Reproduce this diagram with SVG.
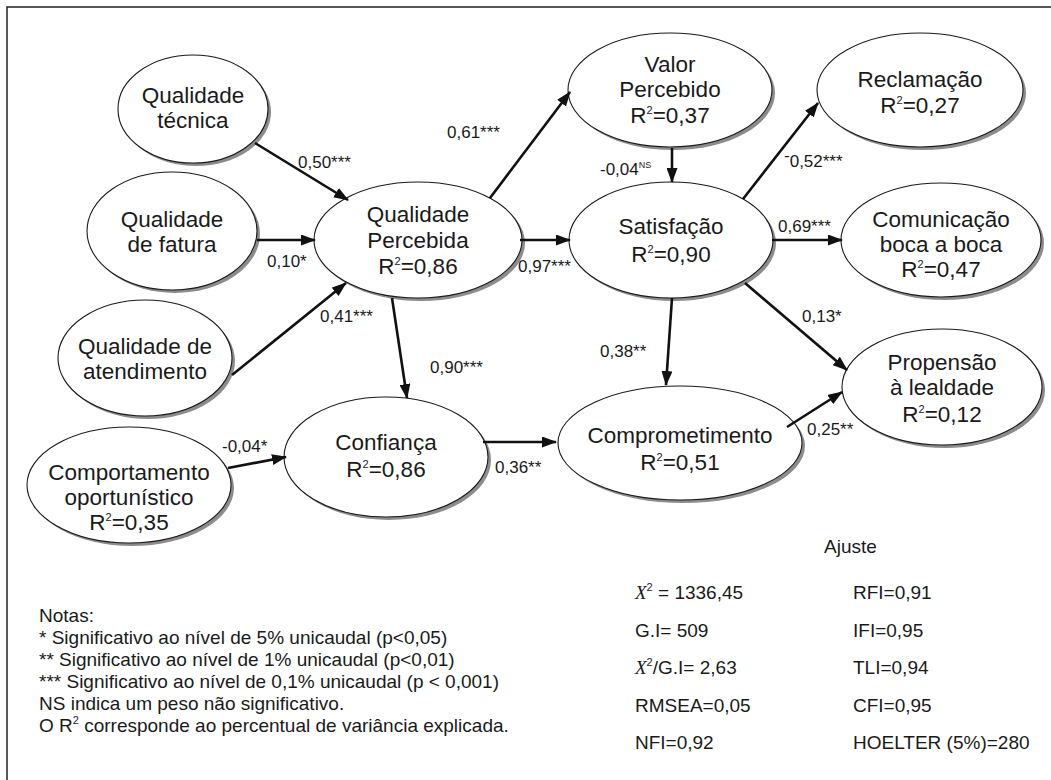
<svg xmlns="http://www.w3.org/2000/svg" width="1051" height="780" viewBox="0 0 1051 780">
<defs>
<style>
.sh{fill:#8c8c8c;}
.el{fill:#fff;stroke:#1a1a1a;stroke-width:1.1;}
.nt{font-family:"Liberation Sans",Arial,sans-serif;font-size:22.5px;fill:#1a1a1a;text-anchor:middle;}
.lb{font-family:"Liberation Sans",Arial,sans-serif;font-size:17px;fill:#1a1a1a;}
.tx{font-family:"Liberation Sans",Arial,sans-serif;font-size:19px;fill:#1a1a1a;}
.cn line{stroke:#111;stroke-width:2.6;marker-end:url(#ah);}
.sup{font-size:11px;}
.xs{font-family:"Liberation Serif","Times New Roman",serif;font-style:italic;}
</style>
<marker id="ah" markerUnits="userSpaceOnUse" markerWidth="15" markerHeight="11" refX="14" refY="5.5" orient="auto">
<path d="M0,0 L15,5.5 L0,11 z" fill="#111"/>
</marker>
</defs>
<rect x="0" y="0" width="1051" height="780" fill="#fff"/>
<rect x="7" y="7" width="1060" height="790" fill="none" stroke="#222" stroke-width="1.5"/>

<g id="n-qt"><ellipse class="sh" cx="196" cy="112" rx="75" ry="54"/><ellipse class="el" cx="193" cy="109" rx="75" ry="54"/>
<text class="nt" x="193" y="103">Qualidade</text><text class="nt" x="193" y="128">técnica</text></g>

<g id="n-qf"><ellipse class="sh" cx="175" cy="234" rx="85" ry="59"/><ellipse class="el" cx="172" cy="231" rx="85" ry="59"/>
<text class="nt" x="172" y="227">Qualidade</text><text class="nt" x="172" y="252">de fatura</text></g>

<g id="n-qa"><ellipse class="sh" cx="148" cy="361" rx="87" ry="58"/><ellipse class="el" cx="145" cy="358" rx="87" ry="58"/>
<text class="nt" x="145" y="354">Qualidade de</text><text class="nt" x="145" y="379">atendimento</text></g>

<g id="n-co"><ellipse class="sh" cx="132" cy="488" rx="102" ry="58"/><ellipse class="el" cx="129" cy="485" rx="102" ry="58"/>
<text class="nt" x="129" y="480">Comportamento</text><text class="nt" x="129" y="505">oportunístico</text><text class="nt" x="129" y="530">R<tspan class="sup" dy="-9">2</tspan><tspan dy="9">=0,35</tspan></text></g>

<g id="n-qp"><ellipse class="sh" cx="421" cy="243" rx="104" ry="58"/><ellipse class="el" cx="418" cy="240" rx="104" ry="58"/>
<text class="nt" x="418" y="222">Qualidade</text><text class="nt" x="418" y="248">Percebida</text><text class="nt" x="418" y="274">R<tspan class="sup" dy="-9">2</tspan><tspan dy="9">=0,86</tspan></text></g>

<g id="n-cf"><ellipse class="sh" cx="389" cy="460" rx="102" ry="60"/><ellipse class="el" cx="386" cy="457" rx="102" ry="60"/>
<text class="nt" x="386" y="450">Confiança</text><text class="nt" x="386" y="477">R<tspan class="sup" dy="-9">2</tspan><tspan dy="9">=0,86</tspan></text></g>

<g id="n-vp"><ellipse class="sh" cx="673" cy="93" rx="102" ry="57"/><ellipse class="el" cx="670" cy="90" rx="102" ry="57"/>
<text class="nt" x="670" y="72">Valor</text><text class="nt" x="670" y="97">Percebido</text><text class="nt" x="670" y="123">R<tspan class="sup" dy="-9">2</tspan><tspan dy="9">=0,37</tspan></text></g>

<g id="n-sa"><ellipse class="sh" cx="674" cy="243" rx="102" ry="58"/><ellipse class="el" cx="671" cy="240" rx="102" ry="58"/>
<text class="nt" x="671" y="234">Satisfação</text><text class="nt" x="671" y="262">R<tspan class="sup" dy="-9">2</tspan><tspan dy="9">=0,90</tspan></text></g>

<g id="n-cm"><ellipse class="sh" cx="683" cy="446" rx="122" ry="57"/><ellipse class="el" cx="680" cy="443" rx="122" ry="57"/>
<text class="nt" x="680" y="443">Comprometimento</text><text class="nt" x="680" y="470">R<tspan class="sup" dy="-9">2</tspan><tspan dy="9">=0,51</tspan></text></g>

<g id="n-re"><ellipse class="sh" cx="923" cy="93" rx="103" ry="57"/><ellipse class="el" cx="920" cy="90" rx="103" ry="57"/>
<text class="nt" x="920" y="87">Reclamação</text><text class="nt" x="920" y="113">R<tspan class="sup" dy="-9">2</tspan><tspan dy="9">=0,27</tspan></text></g>

<g id="n-cb"><ellipse class="sh" cx="944" cy="243" rx="100" ry="57"/><ellipse class="el" cx="941" cy="240" rx="100" ry="57"/>
<text class="nt" x="941" y="227">Comunicação</text><text class="nt" x="941" y="252">boca a boca</text><text class="nt" x="941" y="277">R<tspan class="sup" dy="-9">2</tspan><tspan dy="9">=0,47</tspan></text></g>

<g id="n-pl"><ellipse class="sh" cx="945" cy="390" rx="100" ry="58"/><ellipse class="el" cx="942" cy="387" rx="100" ry="58"/>
<text class="nt" x="942" y="370">Propensão</text><text class="nt" x="942" y="395">à lealdade</text><text class="nt" x="942" y="422">R<tspan class="sup" dy="-9">2</tspan><tspan dy="9">=0,12</tspan></text></g>

<g id="connectors" class="cn">
<line x1="255" y1="143" x2="348" y2="200"/>
<line x1="257" y1="240" x2="315" y2="240"/>
<line x1="232" y1="375" x2="346" y2="283"/>
<line x1="228" y1="468" x2="286" y2="457"/>
<line x1="490" y1="198" x2="570" y2="92"/>
<line x1="672" y1="148" x2="672" y2="182"/>
<line x1="520" y1="240" x2="570" y2="240"/>
<line x1="392" y1="298" x2="407" y2="398"/>
<line x1="483" y1="442" x2="556" y2="442"/>
<line x1="672" y1="298" x2="666" y2="385"/>
<line x1="743" y1="199" x2="818" y2="103"/>
<line x1="772" y1="240" x2="842" y2="240"/>
<line x1="745" y1="283" x2="847" y2="370"/>
<line x1="787" y1="427" x2="842" y2="392"/>
</g>

<g id="edge-labels">
<text class="lb" x="298" y="168">0,50***</text>
<text class="lb" x="267" y="267">0,10*</text>
<text class="lb" x="320" y="322">0,41***</text>
<text class="lb" x="222" y="452">-0,04*</text>
<text class="lb" x="447" y="138">0,61***</text>
<text class="lb" x="600" y="175">-0,04<tspan font-size="9" dy="-7">NS</tspan></text>
<text class="lb" x="518" y="272">0,97***</text>
<text class="lb" x="430" y="373">0,90***</text>
<text class="lb" x="495" y="473">0,36**</text>
<text class="lb" x="600" y="357">0,38**</text>
<text class="lb" x="784" y="167"><tspan dy="-6">-</tspan><tspan dy="6">0,52***</tspan></text>
<text class="lb" x="778" y="232">0,69***</text>
<text class="lb" x="802" y="322">0,13*</text>
<text class="lb" x="807" y="435">0,25**</text>
</g>

<g id="notes" class="tx">
<text x="39" y="622">Notas:</text>
<text x="39" y="644">* Significativo ao nível de 5% unicaudal (p&lt;0,05)</text>
<text x="39" y="666">** Significativo ao nível de 1% unicaudal (p&lt;0,01)</text>
<text x="39" y="688">*** Significativo ao nível de 0,1% unicaudal (p &lt; 0,001)</text>
<text x="39" y="710">NS indica um peso não significativo.</text>
<text x="39" y="732">O R<tspan class="sup" dy="-8">2</tspan><tspan dy="8"> corresponde ao percentual de variância explicada.</tspan></text>
</g>

<g id="fit" class="tx">
<text x="824" y="553">Ajuste</text>
<text x="635" y="599"><tspan class="xs">X</tspan><tspan class="sup" dy="-8">2</tspan><tspan dy="8"> = 1336,45</tspan></text>
<text x="635" y="636.5">G.I= 509</text>
<text x="635" y="674"><tspan class="xs">X</tspan><tspan class="sup" dy="-8">2</tspan><tspan dy="8">/G.I= 2,63</tspan></text>
<text x="635" y="711.5">RMSEA=0,05</text>
<text x="635" y="749">NFI=0,92</text>
<text x="853" y="599">RFI=0,91</text>
<text x="853" y="636.5">IFI=0,95</text>
<text x="853" y="674">TLI=0,94</text>
<text x="853" y="711.5">CFI=0,95</text>
<text x="853" y="749">HOELTER (5%)=280</text>
</g>
</svg>
